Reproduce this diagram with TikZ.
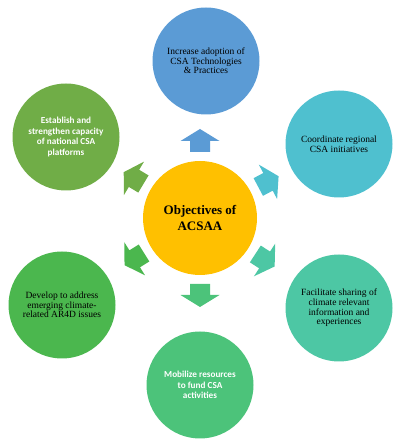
\documentclass[tikz,border=0pt]{standalone}
\usepackage{fontspec}
\setmainfont{Liberation Serif}
\newfontfamily\calib{Carlito}
\definecolor{cblue}{HTML}{5B9BD5}
\definecolor{ccyan}{HTML}{4FC0CF}
\definecolor{csea}{HTML}{4DC7A4}
\definecolor{cbot}{HTML}{4CC37A}
\definecolor{cll}{HTML}{4BB74E}
\definecolor{cul}{HTML}{70AD47}
\definecolor{cyel}{HTML}{FFC000}
\tikzset{
  outer/.style={circle, minimum size=107pt, inner sep=0pt, align=center,
    font=\fontsize{9.5}{9.7}\selectfont},
  sansouter/.style={outer, text=white, font=\calib\bfseries\fontsize{9.2}{10.6}\selectfont},
  center/.style={circle, minimum size=114pt, inner sep=0pt, align=center, fill=cyel,
    font=\bfseries\fontsize{13}{16.5}\selectfont},
}
\newcommand{\blockarr}[3]{%
  \begin{scope}[shift={(#1.center)}, rotate=#2]
    \fill[#3] (66,-10) -- (77,-10) -- (77,-19.5) -- (89,0) -- (77,19.5) -- (77,10) -- (66,10) -- cycle;
  \end{scope}}
\begin{document}
\begin{tikzpicture}[x=1pt,y=1pt]
\useasboundingbox (0,0) rectangle (403,439);
\node[center] (c) at (200,221) {Objectives of\\ACSAA};
\node[outer, fill=cblue] (top) at (206,378) {Increase adoption of\\CSA Technologies\\\& Practices};
\node[outer, fill=ccyan] (ur) at (339,295) {Coordinate regional\\CSA initiatives};
\node[outer, fill=csea] (lr) at (339,131) {Facilitate sharing of\\climate relevant\\information and\\experiences};
\node[sansouter, fill=cbot] (bot) at (200,54) {Mobilize resources\\to fund CSA\\activities};
\node[outer, fill=cll] (ll) at (62,134) {Develop to address\\emerging climate-\\related AR4D issues};
\node[sansouter, fill=cul] (ul) at (66,302) {Establish and\\strengthen capacity\\of national CSA\\platforms};
\blockarr{c}{90}{cblue}
\blockarr{c}{28}{ccyan}
\blockarr{c}{-33}{csea}
\blockarr{c}{-90}{cbot}
\blockarr{c}{212}{cll}
\blockarr{c}{149}{cul}
\end{tikzpicture}
\end{document}
